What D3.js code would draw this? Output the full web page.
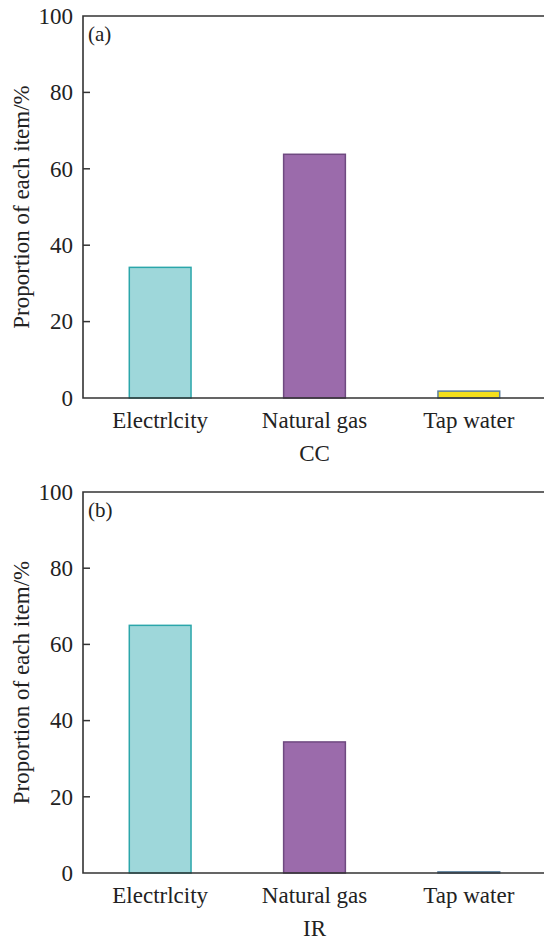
<!DOCTYPE html>
<html>
<head>
<meta charset="utf-8">
<script src="https://cdn.jsdelivr.net/npm/d3@7"></script>
<style>
  body { margin: 0; background: #fff; }
</style>
</head>
<body>
<div id="chart"></div>
<script>
// data
const categories = ["Electrlcity", "Natural gas", "Tap water"];
const ccValues = [34.2, 63.8, 1.8];
const irValues = [65.0, 34.4, 0.3];
const panelTags = ["(a)", "(b)"];
const panelTitles = ["CC", "IR"];
const yTicks = [0, 20, 40, 60, 80, 100];

const fills = ["#9ed7da", "#9b6bab", "#f4e01c"];
const strokes = ["#2ba6aa", "#6f4a80", "#5a7fa0"];
const FONT = "'Liberation Serif', 'Times New Roman', serif";

const W = 544, H = 940;
const svg = d3.select("#chart").append("svg")
    .attr("width", W)
    .attr("height", H)
    .style("display", "block");

const x = d3.scaleBand()
    .domain(categories)
    .range([83, 546])
    .paddingInner(0.6)
    .paddingOuter(0.3);

// draw one panel
function drawPanel(values, top, bottom, tag, title) {
    const y = d3.scaleLinear().domain([0, 100]).range([bottom, top]);
    const g = svg.append("g");

    g.selectAll("rect.bar")
        .data(values)
        .enter().append("rect")
        .attr("class", "bar")
        .attr("x", (d, i) => x(categories[i]))
        .attr("y", d => y(d))
        .attr("width", x.bandwidth())
        .attr("height", d => y(0) - y(d))
        .attr("fill", (d, i) => fills[i])
        .attr("stroke", (d, i) => strokes[i])
        .attr("stroke-width", 1.5);

    // y axis with inward ticks
    const yAxis = d3.axisLeft(y).tickValues(yTicks).tickSize(0).tickPadding(10);
    const ya = g.append("g").attr("transform", "translate(83,0)").call(yAxis)
        .attr("font-family", null).attr("font-size", null);
    ya.select(".domain").remove();
    ya.selectAll("text")
        .style("font-family", FONT)
        .style("font-size", "23px")
        .attr("fill", "#222");
    g.selectAll("line.tick-in")
        .data(yTicks.slice(1, -1))
        .enter().append("line")
        .attr("class", "tick-in")
        .attr("x1", 83).attr("x2", 90)
        .attr("y1", d => y(d)).attr("y2", d => y(d))
        .attr("stroke", "#333").attr("stroke-width", 1.5);

    // frame: left, top, bottom
    g.append("path")
        .attr("d", `M544,${top}H83V${bottom}H544`)
        .attr("fill", "none")
        .attr("stroke", "#333")
        .attr("stroke-width", 1.6);

    // category labels
    const xAxis = d3.axisBottom(x).tickSize(0).tickPadding(14);
    const xa = g.append("g").attr("transform", `translate(0,${bottom})`).call(xAxis)
        .attr("font-family", null).attr("font-size", null);
    xa.select(".domain").remove();
    xa.selectAll("text")
        .style("font-family", FONT)
        .style("font-size", "23px")
        .attr("fill", "#222");

    g.append("text")
        .attr("x", x(categories[1]) + x.bandwidth() / 2)
        .attr("y", bottom + 63)
        .attr("text-anchor", "middle")
        .style("font-family", FONT)
        .style("font-size", "23px")
        .attr("fill", "#222")
        .text(title);

    g.append("text")
        .attr("x", 88)
        .attr("y", top + 25)
        .style("font-family", FONT)
        .style("font-size", "21px")
        .attr("fill", "#222")
        .text(tag);

    g.append("text")
        .attr("transform", `translate(29,${(top + bottom) / 2}) rotate(-90)`)
        .attr("text-anchor", "middle")
        .style("font-family", FONT)
        .style("font-size", "23px")
        .attr("fill", "#222")
        .text("Proportion of each item/%");
}

drawPanel(ccValues, 16, 398, panelTags[0], panelTitles[0]);
drawPanel(irValues, 492, 873, panelTags[1], panelTitles[1]);
</script>
</body>
</html>
